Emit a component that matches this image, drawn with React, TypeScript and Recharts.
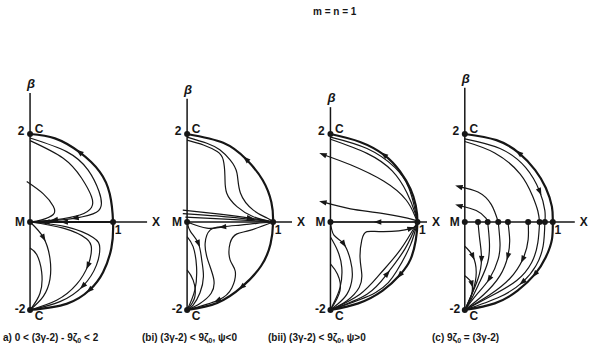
import React from "react";
import { ComposedChart, Line, XAxis, YAxis, ReferenceLine, ReferenceDot } from "recharts";

type P = { x: number; y: number };
type Arrow = { at: number; dir: 1 | -1 };
type Curve = { pts: P[]; w?: number; arrows?: Arrow[] };

const INK = "#161616";
const FONT = "'Liberation Sans', Arial, sans-serif";
const KY = 44; // px per unit of beta
const Y_MIN = -2.5;
const Y_MAX = 3.5;
const ZERO_Y = 222; // page y of beta = 0

const p = (x: number, y: number): P => ({ x, y });

// ---- (a) 0 < (3γ-2) - 9ζ0 < 2
const aBoundary = [p(0, 2), p(0.3, 1.9), p(0.6, 1.58), p(0.84, 1.14), p(0.96, 0.64), p(1, 0), p(0.98, -0.59), p(0.88, -1.14), p(0.72, -1.54), p(0.44, -1.86), p(0, -2)];
const aUpper1 = [p(0, 1.91), p(0.44, 1.6), p(0.7, 1.18), p(0.83, 0.7), p(0.86, 0.42), p(0.8, 0.22), p(0.55, 0.09), p(0.25, 0.03), p(0, 0)];
const aUpper2 = [p(0, 1.85), p(0.4, 1.45), p(0.62, 1.0), p(0.74, 0.58), p(0.74, 0.33), p(0.6, 0.16), p(0.3, 0.05), p(0, 0)];
const aUpper3 = [p(-0.04, 0.92), p(0.16, 0.64), p(0.28, 0.36), p(0.28, 0.17), p(0.14, 0.05), p(0, 0)];
const aFlow = [p(1, 0), p(0.7, 0), p(0.42, 0), p(0.2, 0), p(0, 0)];
const aLower1 = [p(0, 0), p(0.44, -0.11), p(0.76, -0.35), p(0.84, -0.59), p(0.8, -0.98), p(0.64, -1.45), p(0.36, -1.81), p(0, -2)];
const aLower2 = [p(0, 0), p(0.4, -0.14), p(0.68, -0.38), p(0.74, -0.62), p(0.7, -0.98), p(0.56, -1.42), p(0.32, -1.78), p(0, -2)];
const aLower3 = [p(0, 0), p(0.16, -0.35), p(0.24, -0.83), p(0.24, -1.3), p(0.16, -1.69), p(0, -2)];
const aLower4 = [p(0, -0.59), p(0.08, -0.74), p(0.14, -1.14), p(0.12, -1.62), p(0, -2)];

// ---- (bi) (3γ-2) < 9ζ0, ψ<0
const biBoundary = [p(0, 2), p(0.42, 1.8), p(0.69, 1.42), p(0.88, 0.95), p(0.98, 0.45), p(1, 0), p(0.97, -0.5), p(0.86, -1.0), p(0.64, -1.47), p(0.35, -1.84), p(0, -2)];
const biUpper1 = [p(0, 1.93), p(0.23, 1.79), p(0.38, 1.64), p(0.5, 1.41), p(0.58, 1.11), p(0.62, 0.66), p(0.77, 0.27), p(0.93, 0.09), p(1, 0)];
const biUpper2 = [p(0, 1.86), p(0.19, 1.75), p(0.35, 1.6), p(0.42, 1.41), p(0.44, 1.03), p(0.46, 0.66), p(0.58, 0.35), p(0.77, 0.12), p(1, 0)];
const biFlat1 = [p(-0.05, 0.27), p(0.38, 0.18), p(0.73, 0.09), p(1, 0)];
const biFlat2 = [p(-0.05, 0.19), p(0.5, 0.11), p(1, 0)];
const biFlat3 = [p(-0.02, 0.11), p(0.5, 0.06), p(1, 0)];
const biBelow = [p(0, 0), p(0.23, -0.14), p(0.42, -0.11), p(0.62, -0.07), p(0.81, -0.03), p(1, 0)];
const biLower1 = [p(1, 0), p(0.73, -0.19), p(0.58, -0.27), p(0.5, -0.48), p(0.5, -0.86), p(0.56, -1.12), p(0.52, -1.5), p(0.36, -1.78), p(0, -2)];
const biLower2 = [p(0.4, -0.11), p(0.27, -0.18), p(0.21, -0.48), p(0.24, -0.86), p(0.31, -1.3), p(0.28, -1.62), p(0.15, -1.85), p(0, -2)];
const biLower3 = [p(0, 0), p(0.04, -0.22), p(0.13, -0.48), p(0.17, -0.86), p(0.19, -1.24), p(0.15, -1.61), p(0.07, -1.89), p(0, -2)];
const biLower4 = [p(0, -0.33), p(0.07, -0.56), p(0.11, -1.02), p(0.09, -1.55), p(0, -2)];
const biLower5 = [p(0, -1.09), p(0.07, -1.32), p(0.09, -1.7), p(0, -2)];

// ---- (bii) (3γ-2) < 9ζ0, ψ>0
const biiBoundary = [p(0, 2), p(0.34, 1.82), p(0.62, 1.52), p(0.8, 1.15), p(0.92, 0.75), p(0.98, 0.38), p(1, 0), p(0.98, -0.42), p(0.92, -0.85), p(0.8, -1.2), p(0.6, -1.56), p(0.32, -1.85), p(0, -2)];
const biiUpper1 = [p(0, 1.93), p(0.42, 1.67), p(0.74, 1.24), p(0.9, 0.78), p(0.97, 0.3), p(1, 0)];
const biiUpper2 = [p(0, 1.88), p(0.42, 1.56), p(0.71, 1.16), p(0.88, 0.66), p(0.97, 0.22), p(1, 0)];
const biiUpper3 = [p(-0.08, 1.53), p(0.23, 1.3), p(0.61, 0.93), p(0.87, 0.5), p(0.97, 0.14), p(1, 0)];
const biiUpper4 = [p(-0.08, 0.45), p(0.23, 0.3), p(0.61, 0.19), p(0.96, 0.05), p(1, 0)];
const biiFlow = [p(1, 0), p(0.55, 0), p(0, 0)];
const biiLower1 = [p(1, 0), p(0.92, -0.15), p(0.61, -0.22), p(0.42, -0.22), p(0.36, -0.41), p(0.34, -0.8), p(0.36, -1.18), p(0.33, -1.49), p(0.19, -1.79), p(0, -2)];
const biiLower2 = [p(0, 0), p(0.04, -0.3), p(0.15, -0.49), p(0.23, -0.87), p(0.25, -1.26), p(0.19, -1.64), p(0.08, -1.87), p(0, -2)];
const biiLower3 = [p(0, -0.34), p(0.08, -0.64), p(0.13, -1.03), p(0.11, -1.49), p(0.04, -1.83), p(0, -2)];
const biiLower4 = [p(0, -0.95), p(0.08, -1.18), p(0.11, -1.56), p(0, -2)];
const biiFan1 = [p(0, -2), p(0.34, -1.64), p(0.57, -1.18), p(0.8, -0.64), p(1, 0)];
const biiFan2 = [p(0, -2), p(0.42, -1.64), p(0.65, -1.18), p(0.86, -0.6), p(1, 0)];
const biiFan3 = [p(0, -2), p(0.52, -1.6), p(0.76, -1.12), p(0.92, -0.52), p(1, 0)];

// ---- (c) 9ζ0 = (3γ-2)
const cBoundary = [p(0, 2), p(0.36, 1.86), p(0.62, 1.56), p(0.8, 1.18), p(0.92, 0.78), p(0.99, 0.35), p(1, 0), p(0.99, -0.4), p(0.92, -0.8), p(0.8, -1.18), p(0.6, -1.56), p(0.34, -1.85), p(0, -2)];
const cUpper1 = [p(0, 1.89), p(0.4, 1.67), p(0.69, 1.24), p(0.85, 0.7), p(0.91, 0.26), p(0.91, 0)];
const cUpper2 = [p(0, 1.83), p(0.34, 1.57), p(0.63, 1.09), p(0.77, 0.59), p(0.83, 0.25), p(0.85, 0)];
const cUpper3 = [p(-0.06, 0.8), p(0.15, 0.68), p(0.3, 0.4), p(0.38, 0)];
const cUpper4 = [p(-0.06, 0.37), p(0.13, 0.26), p(0.24, 0.09), p(0.26, 0)];
const cLower1 = [p(0.91, 0), p(0.89, -0.55), p(0.81, -0.99), p(0.66, -1.36), p(0.4, -1.7), p(0, -2)];
const cLower2 = [p(0.85, 0), p(0.83, -0.47), p(0.76, -0.92), p(0.59, -1.33), p(0.32, -1.66), p(0, -2)];
const cLower3 = [p(0.72, 0), p(0.72, -0.4), p(0.66, -0.84), p(0.51, -1.29), p(0.28, -1.66), p(0, -2)];
const cLower4 = [p(0.49, 0), p(0.51, -0.4), p(0.49, -0.77), p(0.4, -1.22), p(0.21, -1.66), p(0, -2)];
const cLower5 = [p(0.38, 0), p(0.4, -0.47), p(0.38, -0.84), p(0.28, -1.29), p(0.13, -1.66), p(0, -2)];
const cLower6 = [p(0.26, 0), p(0.28, -0.47), p(0.26, -0.92), p(0.17, -1.36), p(0.08, -1.73), p(0, -2)];
const cLower7 = [p(0.15, 0), p(0.17, -0.4), p(0.19, -0.84), p(0.15, -1.29), p(0.06, -1.73), p(0, -2)];
const cLower8 = [p(0, -0.55), p(0.09, -0.77), p(0.13, -1.14), p(0.09, -1.58), p(0, -2)];
const cLower9 = [p(0, -1.22), p(0.08, -1.4), p(0.07, -1.7), p(0, -2)];
const cStops = [0, 0.15, 0.26, 0.38, 0.49, 0.72, 0.85, 0.91, 1];

const captions = [
  { left: 3, parts: ["a) 0 < (3γ-2) - 9ζ", "0", " < 2"] },
  { left: 142, parts: ["(bi) (3γ-2) < 9ζ", "0", ", ψ<0"] },
  { left: 268, parts: ["(bii) (3γ-2) < 9ζ", "0", ", ψ>0"] },
  { left: 432, parts: ["(c) 9ζ", "0", " = (3γ-2)"] },
];

type PanelCfg = {
  axisX: number;
  kx: number;
  xMax: number;
  axisTop: number;
  axisEnd: number;
  curves: Curve[];
  dots: P[];
};

const bold = (pts: P[], arrows?: Arrow[]): Curve => ({ pts, w: 2.2, arrows });
const thin = (pts: P[], arrows?: Arrow[]): Curve => ({ pts, w: 1.2, arrows });

const panels: PanelCfg[] = [
  {
    axisX: 30, kx: 83, xMax: 1.75, axisTop: 2.93, axisEnd: 1.41,
    curves: [
      bold(aBoundary, [{ at: 2, dir: -1 }, { at: 8, dir: 1 }]),
      thin(aUpper1, [{ at: 6, dir: 1 }]),
      thin(aUpper2, [{ at: 6, dir: 1 }]),
      thin(aUpper3),
      bold(aFlow, [{ at: 2, dir: 1 }, { at: 3, dir: 1 }]),
      thin(aLower1, [{ at: 5, dir: 1 }]),
      thin(aLower2, [{ at: 4, dir: 1 }]),
      thin(aLower3, [{ at: 1, dir: 1 }]),
      thin(aLower4),
    ],
    dots: [p(0, 2), p(0, 0), p(1, 0), p(0, -2)],
  },
  {
    axisX: 187, kx: 86, xMax: 1.55, axisTop: 2.8, axisEnd: 1.22,
    curves: [
      bold(biBoundary, [{ at: 2, dir: -1 }, { at: 8, dir: 1 }]),
      thin(biUpper1),
      thin(biUpper2),
      thin(biFlat1, [{ at: 2, dir: 1 }]),
      thin(biFlat2),
      thin(biFlat3),
      thin(biBelow, [{ at: 2, dir: -1 }]),
      thin(biLower1, [{ at: 7, dir: 1 }]),
      thin(biLower2),
      thin(biLower3, [{ at: 2, dir: 1 }]),
      thin(biLower4),
      thin(biLower5),
    ],
    dots: [p(0, 2), p(0, 0), p(1, 0), p(0, -2)],
  },
  {
    axisX: 330, kx: 87, xMax: 1.4, axisTop: 2.61, axisEnd: 1.11,
    curves: [
      bold(biiBoundary, [{ at: 2, dir: -1 }, { at: 9, dir: 1 }]),
      thin(biiUpper1),
      thin(biiUpper2),
      thin(biiUpper3, [{ at: 0, dir: -1 }]),
      thin(biiUpper4, [{ at: 0, dir: -1 }]),
      thin(biiFlow, [{ at: 1, dir: 1 }]),
      thin(biiLower1, [{ at: 1, dir: -1 }]),
      thin(biiLower2, [{ at: 2, dir: 1 }]),
      thin(biiLower3),
      thin(biiLower4),
      thin(biiFan1),
      thin(biiFan2, [{ at: 2, dir: 1 }]),
      thin(biiFan3),
    ],
    dots: [p(0, 2), p(0, 0), p(1, 0), p(0, -2)],
  },
  {
    axisX: 465, kx: 88, xMax: 1.45, axisTop: 3.05, axisEnd: 1.25,
    curves: [
      bold(cBoundary, [{ at: 2, dir: -1 }, { at: 9, dir: 1 }]),
      thin(cUpper1, [{ at: 3, dir: 1 }]),
      thin(cUpper2),
      thin(cUpper3, [{ at: 0, dir: -1 }]),
      thin(cUpper4, [{ at: 0, dir: -1 }]),
      thin(cLower1, [{ at: 3, dir: 1 }]),
      thin(cLower2),
      thin(cLower3, [{ at: 2, dir: 1 }]),
      thin(cLower4, [{ at: 2, dir: 1 }]),
      thin(cLower5, [{ at: 3, dir: 1 }]),
      thin(cLower6),
      thin(cLower7, [{ at: 2, dir: 1 }]),
      thin(cLower8, [{ at: 1, dir: 1 }]),
      thin(cLower9, [{ at: 1, dir: 1 }]),
    ],
    dots: [...cStops.map((x) => p(x, 0)), p(0, 2), p(0, -2)],
  },
];

const X_MIN = -0.35;

// arrowhead drawn at a curve point, pointing along the local tangent
const arrowDot = (c: Curve, kx: number) => (d: any) => {
  const a = c.arrows?.find((r) => r.at === d.index);
  if (!a || d.cx == null) return <g key={`n${d.index}`} />;
  const i = d.index;
  const prev = c.pts[Math.max(i - 1, 0)];
  const next = c.pts[Math.min(i + 1, c.pts.length - 1)];
  const dx = (next.x - prev.x) * kx * a.dir;
  const dy = -(next.y - prev.y) * KY * a.dir;
  const ang = (Math.atan2(dy, dx) * 180) / Math.PI;
  return (
    <path
      key={`a${i}`}
      d="M4.5,0 L-3,-2.7 L-3,2.7 Z"
      transform={`translate(${d.cx},${d.cy}) rotate(${ang})`}
      fill={INK}
    />
  );
};

const textAt = (t: string, dx: number, dy: number, size = 12, italic = false) => (s: any) => (
  <text
    x={s.cx + dx}
    y={s.cy + dy}
    textAnchor="middle"
    fontFamily={FONT}
    fontSize={size}
    fontWeight="bold"
    fontStyle={italic ? "italic" : "normal"}
    fill={INK}
  >
    {t}
  </text>
);

function Panel({ cfg }: { cfg: PanelCfg }) {
  const width = (cfg.xMax - X_MIN) * cfg.kx;
  const height = (Y_MAX - Y_MIN) * KY;
  const left = cfg.axisX + X_MIN * cfg.kx;
  const top = ZERO_Y - Y_MAX * KY;
  const labels = [
    { at: p(0, 2), t: "2", dx: -9, dy: 1 },
    { at: p(0, 2), t: "C", dx: 9, dy: -1 },
    { at: p(0, 0), t: "M", dx: -10, dy: 4 },
    { at: p(1, 0), t: "1", dx: 5, dy: 12 },
    { at: p(0, -2), t: "-2", dx: -10, dy: 3 },
    { at: p(0, -2), t: "C", dx: 9, dy: 10 },
    { at: p(cfg.axisEnd, 0), t: "X", dx: 9, dy: 4 },
  ];
  return (
    <div style={{ position: "absolute", left, top }}>
      <ComposedChart width={width} height={height} margin={{ top: 0, right: 0, bottom: 0, left: 0 }}>
        <XAxis type="number" dataKey="x" domain={[X_MIN, cfg.xMax]} hide allowDataOverflow />
        <YAxis type="number" dataKey="y" domain={[Y_MIN, Y_MAX]} hide allowDataOverflow />
        <ReferenceLine segment={[{ x: 0, y: -2 }, { x: 0, y: cfg.axisTop }]} stroke={INK} strokeWidth={1.5} ifOverflow="visible" />
        <ReferenceLine segment={[{ x: 0, y: 0 }, { x: cfg.axisEnd, y: 0 }]} stroke={INK} strokeWidth={1.5} ifOverflow="visible" />
        {cfg.curves.map((c, i) => (
          <Line
            key={i}
            data={c.pts}
            dataKey="y"
            type="natural"
            stroke={INK}
            strokeWidth={c.w}
            dot={arrowDot(c, cfg.kx)}
            activeDot={false}
            isAnimationActive={false}
          />
        ))}
        {cfg.dots.map((d, i) => (
          <ReferenceDot key={`d${i}`} x={d.x} y={d.y} r={3} fill={INK} stroke="none" />
        ))}
        {labels.map((l, i) => (
          <ReferenceDot key={`l${i}`} x={l.at.x} y={l.at.y} r={1} shape={textAt(l.t, l.dx, l.dy)} />
        ))}
        <ReferenceDot x={0} y={cfg.axisTop} r={1} shape={textAt("β", 1, -5, 13, true)} />
      </ComposedChart>
    </div>
  );
}

export default function App() {
  return (
    <div
      style={{
        position: "absolute",
        left: 0,
        top: 0,
        width: 597,
        height: 357,
        overflow: "hidden",
        background: "#fff",
        fontFamily: FONT,
        color: INK,
      }}
    >
      <div style={{ position: "absolute", left: 313, top: 6, fontSize: 10, fontWeight: "bold", whiteSpace: "pre" }}>
        m = n = 1
      </div>
      {panels.map((cfg, i) => (
        <Panel key={i} cfg={cfg} />
      ))}
      {captions.map((c, i) => (
        <div
          key={i}
          style={{ position: "absolute", left: c.left, top: 332, fontSize: 10, fontWeight: "bold", whiteSpace: "pre" }}
        >
          {c.parts[0]}
          <span style={{ fontSize: 7, position: "relative", top: 2 }}>{c.parts[1]}</span>
          {c.parts[2]}
        </div>
      ))}
    </div>
  );
}
